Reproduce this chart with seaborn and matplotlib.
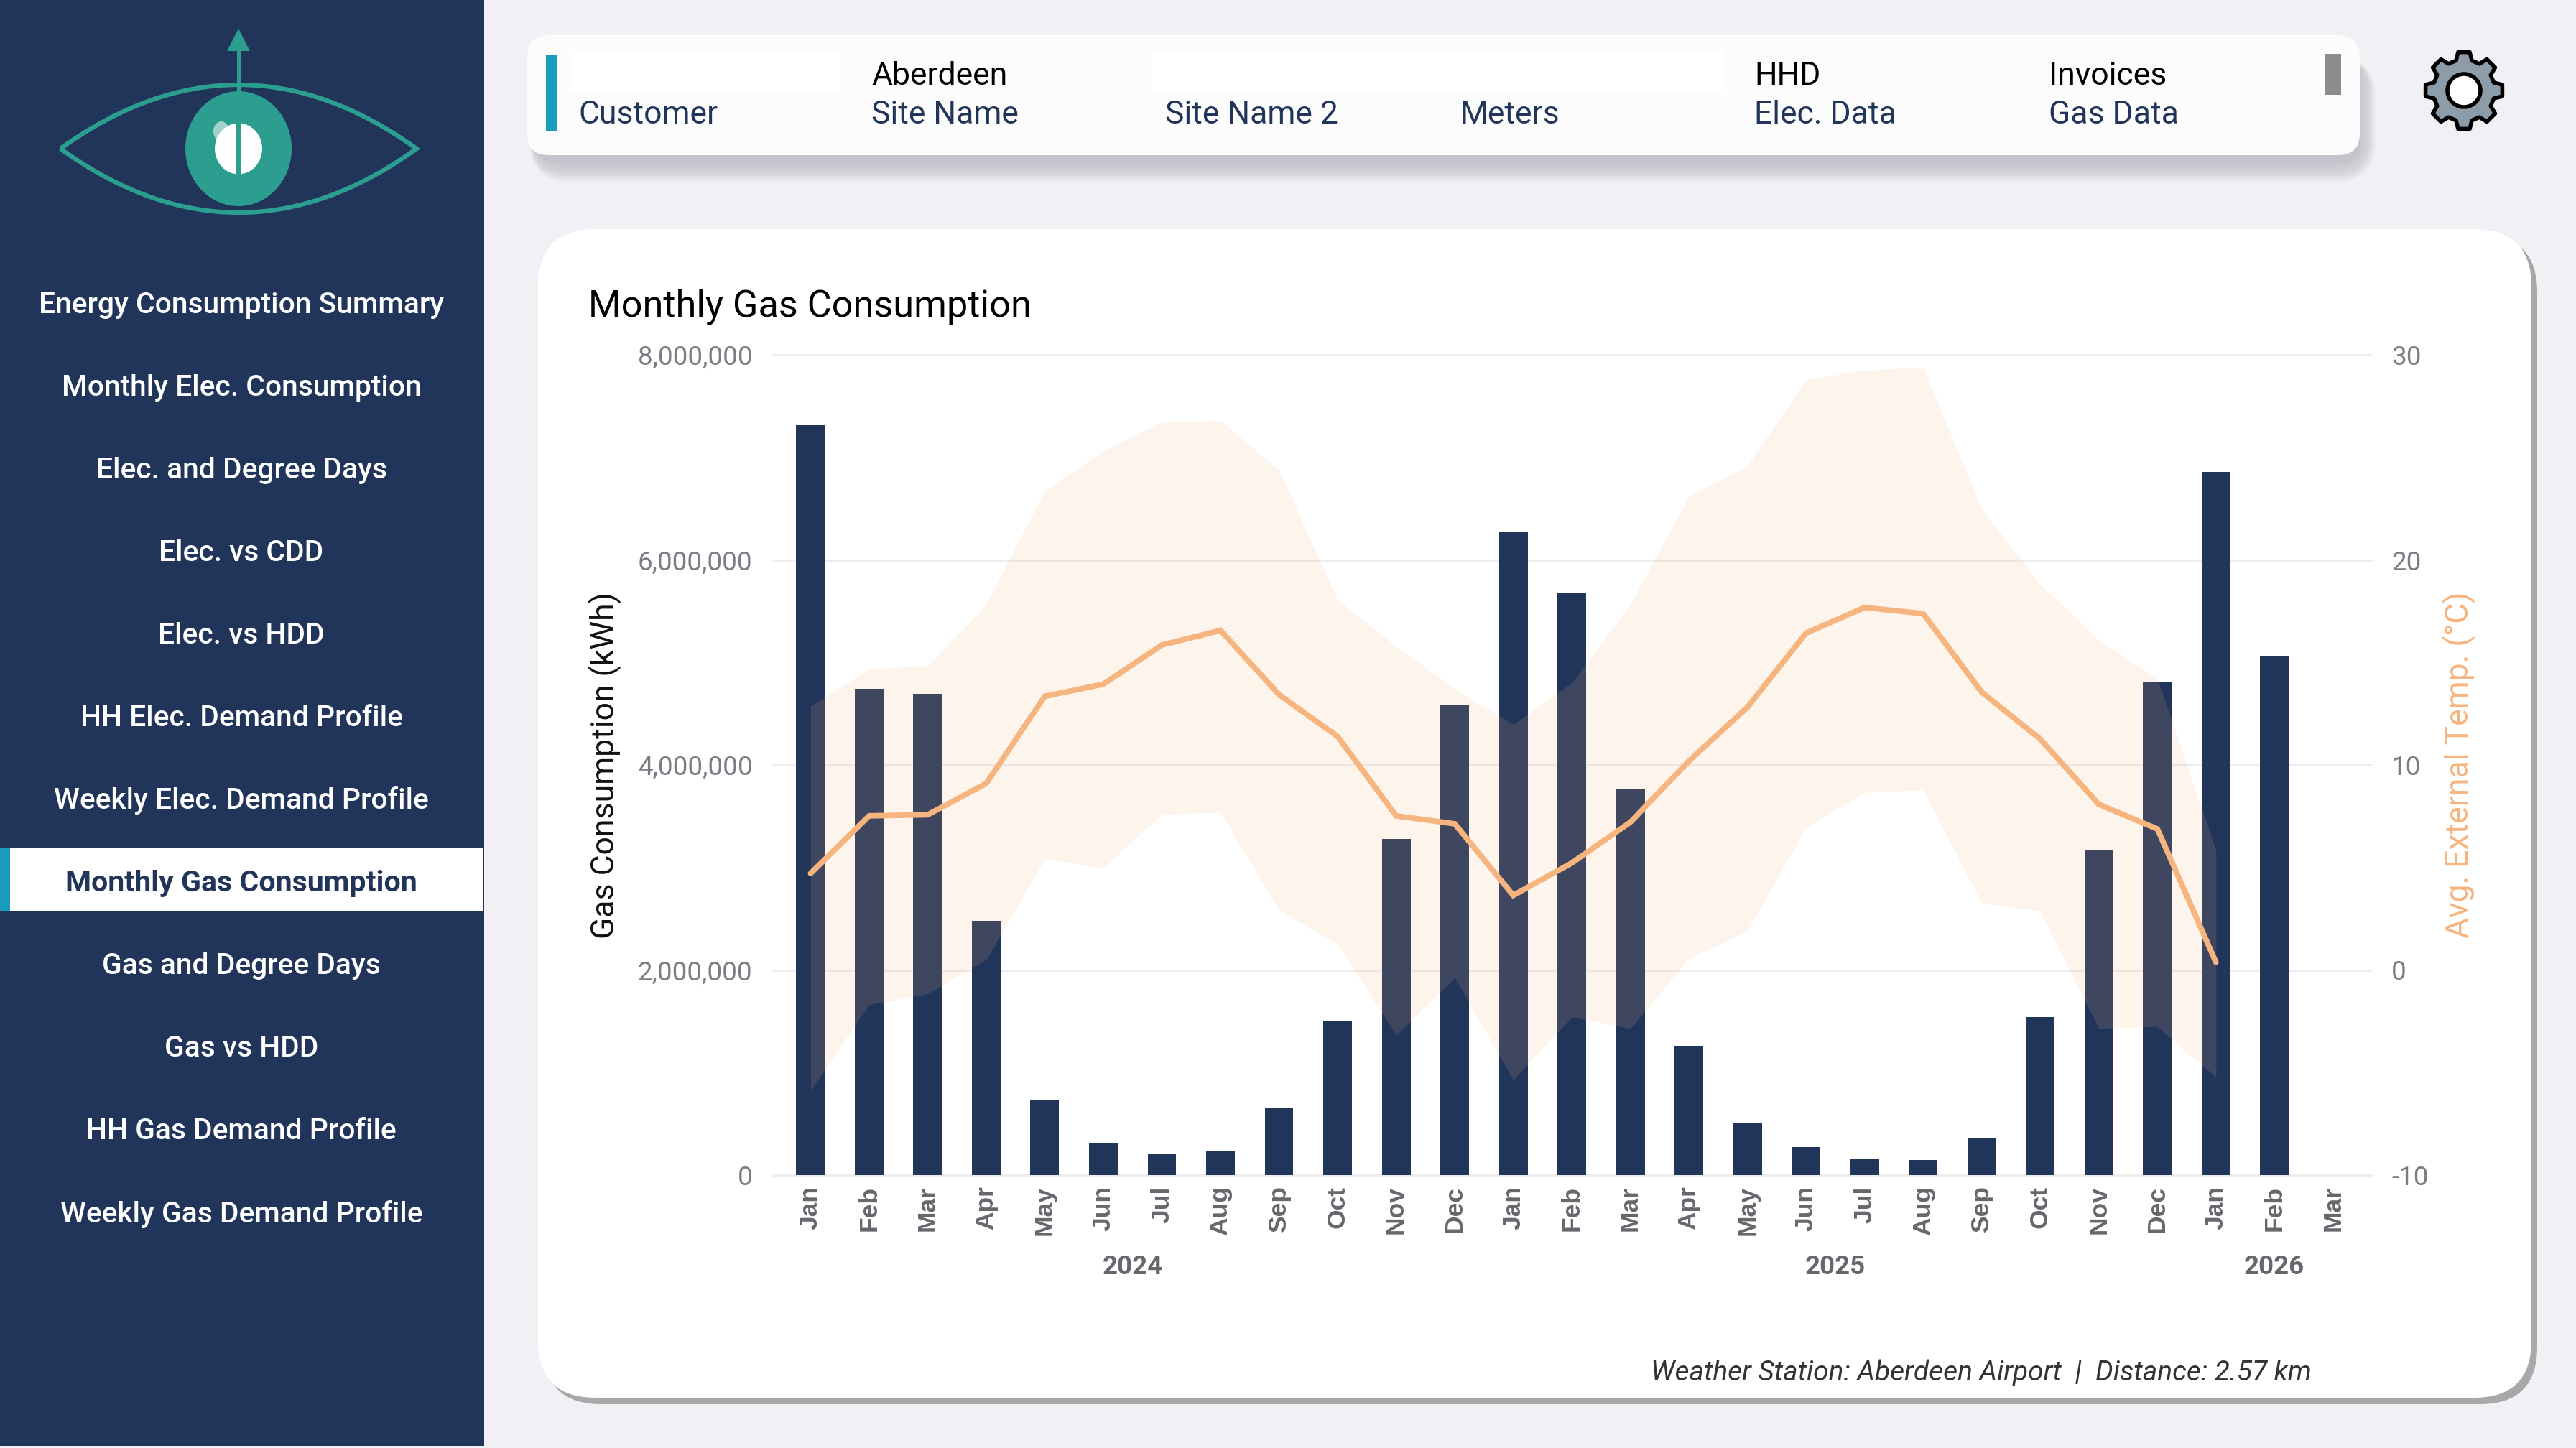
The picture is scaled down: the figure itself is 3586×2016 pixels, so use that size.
import numpy as np
import pandas as pd
import matplotlib
matplotlib.use("Agg")
import matplotlib.pyplot as plt
from matplotlib.patches import FancyBboxPatch, Rectangle, Ellipse, PathPatch, Polygon
from matplotlib.path import Path
from matplotlib.ticker import FuncFormatter
from matplotlib.transforms import blended_transform_factory, ScaledTranslation
import seaborn as sns

# data
months = ["Jan", "Feb", "Mar", "Apr", "May", "Jun", "Jul", "Aug", "Sep", "Oct", "Nov", "Dec",
          "Jan", "Feb", "Mar", "Apr", "May", "Jun", "Jul", "Aug", "Sep", "Oct", "Nov", "Dec",
          "Jan", "Feb", "Mar"]
years = [2024] * 12 + [2025] * 12 + [2026] * 3
gas_kwh = [7310000, 4746000, 4695000, 2479000, 736000, 318000, 206000, 237000, 659000, 1500000, 3279000, 4578000,
           6280000, 5674000, 3768000, 1260000, 511000, 272000, 155000, 150000, 364000, 1541000, 3167000, 4808000,
           6856000, 5067000, np.nan]
temp_avg = [4.71, 7.52, 7.57, 9.10, 13.35, 13.94, 15.85, 16.56, 13.43, 11.39, 7.52, 7.13,
            3.64, 5.22, 7.21, 10.19, 12.82, 16.43, 17.68, 17.38, 13.55, 11.26, 8.08, 6.88,
            0.38, np.nan, np.nan]
temp_high = [12.87, 14.68, 14.85, 17.83, 23.39, 25.32, 26.73, 26.78, 24.38, 18.04, 15.8, 13.71,
             11.97, 14.01, 17.83, 23.11, 24.59, 28.79, 29.25, 29.4, 22.47, 18.8, 16.1, 14.22,
             5.86, np.nan, np.nan]
temp_low = [-5.86, -1.68, -1.15, 0.51, 5.43, 4.97, 7.59, 7.69, 2.93, 1.27, -3.18, -0.38,
            -5.35, -2.29, -2.85, 0.56, 1.91, 6.96, 8.66, 8.79, 3.26, 2.88, -2.85, -2.75,
            -5.22, np.nan, np.nan]
gas_ticks = [0, 2000000, 4000000, 6000000, 8000000]
temp_ticks = [-10, 0, 10, 20, 30]

nav_items = ["Energy Consumption Summary", "Monthly Elec. Consumption", "Elec. and Degree Days",
             "Elec. vs CDD", "Elec. vs HDD", "HH Elec. Demand Profile", "Weekly Elec. Demand Profile",
             "Monthly Gas Consumption", "Gas and Degree Days", "Gas vs HDD", "HH Gas Demand Profile",
             "Weekly Gas Demand Profile"]
active_item = "Monthly Gas Consumption"
header_labels = ["Customer", "Site Name", "Site Name 2", "Meters", "Elec. Data", "Gas Data"]
header_values = ["", "Aberdeen", "", "", "HHD", "Invoices"]

NAVY = "#21355A"
TEAL = "#2C9E8F"
BLUE = "#1A9BBB"
ORANGE = "#F6B47F"
PAGE = "#F0F0F5"
TICK_GREY = "#7C7C85"
MONTH_GREY = "#66666D"

sns.set_theme(style="white")
plt.rcParams["font.family"] = ["Roboto", "DejaVu Sans"]
plt.rcParams["axes.unicode_minus"] = False

W, H = 3586, 2016
fig = plt.figure(figsize=(W / 100, H / 100), dpi=100, facecolor=PAGE)

# page furniture lives on a full-size axes in pixel coordinates
bg = fig.add_axes([0, 0, 1, 1], zorder=0)
bg.set_xlim(0, W)
bg.set_ylim(H, 0)
bg.axis("off")


def card(x0, y0, x1, y1, r, **kw):
    bg.add_patch(FancyBboxPatch((x0, y0), x1 - x0, y1 - y0,
                                boxstyle=f"round,pad=0,rounding_size={r}", **kw))


# sidebar
bg.add_patch(Rectangle((0, 0), 674, 2013, color=NAVY, lw=0))
for i, item in enumerate(nav_items):
    y = 425 + 115 * i
    if item == active_item:
        bg.add_patch(Rectangle((0, 1181), 672, 87, color="white", lw=0))
        bg.add_patch(Rectangle((0, 1181), 14, 87, color=BLUE, lw=0))
        bg.text(336, y, item, color=NAVY, fontsize=29.6, fontweight=600, ha="center", va="center")
    else:
        bg.text(336, y, item, color="white", fontsize=29.3, fontweight=500, ha="center", va="center")

# logo
eye = Path([(84, 207), (332, 29), (580, 207), (332, 385), (84, 207)],
           [Path.MOVETO, Path.CURVE3, Path.CURVE3, Path.CURVE3, Path.CURVE3])
bg.add_patch(PathPatch(eye, fc="none", ec=TEAL, lw=4.5, joinstyle="miter"))
bg.add_patch(Rectangle((329.5, 68), 5, 62, color=TEAL, lw=0))
bg.add_patch(Polygon([(332, 40), (316, 71), (348, 71)], color=TEAL, lw=0))
bg.add_patch(Ellipse((332, 207), 148, 160, color=TEAL, lw=0))
bg.add_patch(Ellipse((308, 183), 22, 28, color="#9FD3CB", lw=0))
bg.add_patch(Ellipse((332, 207), 66, 71, color="white", lw=0))
bg.add_patch(Rectangle((329, 170), 6, 74, color=TEAL, lw=0))

# header card with a soft shadow, only showing below and to the right
for i in range(30):
    card(746 - i * 0.3, 80, 3285 + i * 0.8, 216 + i + 10, 30 + i,
         fc="#80808A", ec="none", alpha=0.01)
card(734, 49, 3285, 216, 30, fc="#FCFCFC", ec="none")
bg.add_patch(Rectangle((793, 70), 376, 57, color="white", lw=0))
bg.add_patch(Rectangle((1604, 70), 797, 57, color="white", lw=0))
bg.add_patch(Rectangle((760, 76), 16, 106, color=BLUE, lw=0))
bg.add_patch(Rectangle((3237, 75), 22, 57, color="#8C8C8C", lw=0))
header_x = [805, 1213, 1622, 2032, 2442, 2852]
for x, label, value in zip(header_x, header_labels, header_values):
    bg.text(x, 171.5, label, color=NAVY, fontsize=32, va="baseline")
    if value:
        bg.text(x, 117.5, value, color="black", fontsize=32, va="baseline")

# gear icon
gear_pts = []
for k in range(8):
    a = 2 * np.pi * k / 8 - np.pi / 2
    for da, r in [(-0.26, 43), (-0.15, 54), (0.15, 54), (0.26, 43)]:
        gear_pts.append((3430 + r * np.cos(a + da), 126 + r * np.sin(a + da)))
bg.add_patch(Polygon(gear_pts, closed=True, fc="#8C9CA8", ec="black", lw=4, joinstyle="round"))
bg.add_patch(Ellipse((3430, 126), 46, 46, fc="white", ec="black", lw=4))

# main card, hard shadow first
card(757, 327, 3532, 1955, 80, fc="#A8A8A8", ec="none")
card(749, 319, 3524, 1946, 80, fc="white", ec="none")

bg.text(819, 440, "Monthly Gas Consumption", color="black", fontsize=37.6, va="baseline")
bg.text(843, 1065, "Gas Consumption (kWh)", color="#111111", fontsize=32, rotation=90, ha="center", va="center")
bg.text(3424, 1065, "Avg. External Temp. (°C)", color=ORANGE, fontsize=32, rotation=90, ha="center", va="center")
bg.text(3218, 1911, "Weather Station: Aberdeen Airport  |  Distance: 2.57 km", color="#333333",
        fontsize=28, style="italic", ha="right", va="center")

# chart
df = pd.DataFrame({"period": [f"{y}-{i:02d}" for i, y in enumerate(years)], "pos": range(len(months)),
                   "month": months, "year": years, "gas": gas_kwh,
                   "temp": temp_avg, "high": temp_high, "low": temp_low})

ax = fig.add_axes([1075 / W, 1 - 1636 / H, (3302 - 1075) / W, (1636 - 494) / H], zorder=2, facecolor="none")
sns.barplot(data=df, x="period", y="gas", order=df["period"], color=NAVY, saturation=1, width=0.49,
            ax=ax, errorbar=None, linewidth=0)
ax.set_ylim(0, 8000000)
ax.set_yticks(gas_ticks)
ax.yaxis.set_major_formatter(FuncFormatter(lambda v, _: f"{int(v):,}"))
ax.set_xticks(df["pos"])
ax.set_xticklabels(df["month"], rotation=90, ha="center", va="top", color=MONTH_GREY, fontsize=25.5,
                   fontweight="bold", family=["Liberation Sans", "DejaVu Sans"])
nudge = ScaledTranslation(6 / 72, 0, fig.dpi_scale_trans)
for lab in ax.get_xticklabels():
    lab.set_transform(lab.get_transform() + nudge)
ax.tick_params(axis="x", length=0, pad=11)
ax.tick_params(axis="y", length=0, pad=20, labelsize=26.5, labelcolor=TICK_GREY)
ax.set_xlabel("")
ax.set_ylabel("")
ax.grid(axis="y", color="#EEEEEE", lw=2.2)
ax.set_axisbelow(True)
for line in ax.get_ygridlines():
    line.set_clip_on(False)
sns.despine(ax=ax, left=True, bottom=True)

ax2 = ax.twinx()
ax2.patch.set_visible(False)
sky = df.dropna(subset=["temp"])
ax2.fill_between(sky["pos"], sky["low"], sky["high"], color=ORANGE, alpha=0.14, lw=0)
sns.lineplot(data=sky, x="pos", y="temp", color=ORANGE, linewidth=5.6, ax=ax2, errorbar=None, sort=False,
             solid_capstyle="round", solid_joinstyle="miter")
ax2.set_ylim(-10, 30)
ax2.set_yticks(temp_ticks)
ax2.tick_params(axis="y", length=0, pad=19.5, labelsize=26.5, labelcolor=TICK_GREY)
ax2.set_ylabel("")
ax2.set_xlabel("")
ax2.grid(False)
sns.despine(ax=ax2, left=True, bottom=True, right=True)
ax.set_xlim(-0.655, 26.665)

# year captions sit at the middle of their months
trans = blended_transform_factory(ax.transData, bg.transData)
for year, grp in df.groupby("year"):
    ax.text(grp["pos"].mean(), 1764, str(year), transform=trans, color=MONTH_GREY, fontsize=26.5,
            fontweight=600, ha="center", va="center", clip_on=False)

fig.savefig("out.png", dpi=100, facecolor=PAGE)
